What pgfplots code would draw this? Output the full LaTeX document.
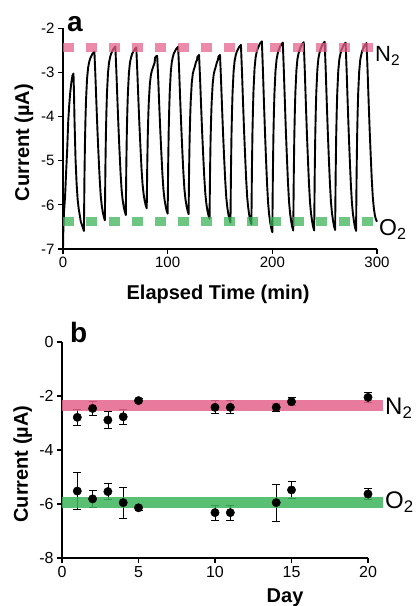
\documentclass[border=0pt]{standalone}
\usepackage{fontspec}
\setmainfont{Liberation Sans}
\usepackage{pgfplots}
\pgfplotsset{compat=1.18}
\definecolor{ntwo}{RGB}{228,100,140}
\definecolor{otwo}{RGB}{60,180,90}

\pgfplotsset{
  panel/.style={
    scale only axis, anchor=south west,
    axis x line*=bottom, axis y line*=left,
    axis line style={line width=1.6bp, black, -},
    tick style={line width=1.2bp, black},
    major tick length=5bp,
    tick align=outside,
    clip=false,
    label style={font=\fontsize{20bp}{24bp}\selectfont\bfseries},
  },
}

\begin{document}
\begin{tikzpicture}
\path[use as bounding box] (0,0) rectangle (420bp,606bp);

% panel a: current trace while switching N2 / O2
\begin{axis}[panel,
  at={(63bp,357bp)}, width=314bp, height=220.5bp,
  xmin=0, xmax=300, ymin=-7, ymax=-2,
  xtick={0,100,200,300}, xticklabels={0,100,200,300},
  ytick={-7,-6,-5,-4,-3,-2}, yticklabels={-7,-6,-5,-4,-3,-2},
  tick label style={font=\fontsize{15bp}{18bp}\selectfont},
  xlabel={Elapsed Time (min)},
  ylabel={Current (µA)},
  xlabel style={at={(axis description cs:0.494,-0.23)}, anchor=base},
  ylabel style={at={(axis description cs:-0.124,0.483)}, anchor=center},
]
\addplot[black, line width=1.9bp, line join=round] coordinates {
(0,-7.0) (0.3,-6.6) (1,-6.15) (2,-5.8) (3,-5.25) (4,-4.75) (5,-4.1) (6,-3.72) (7,-3.43) (8,-3.22) (9,-3.07) (10,-3.02)
(10.5,-3.45) (11,-4.09) (12,-4.98) (13,-5.52) (14,-5.88) (15,-6.09) (16,-6.23) (17,-6.38) (18,-6.45) (19,-6.52) (20,-6.59)
(20.5,-5.37) (21,-4.56) (21.5,-4.03) (22,-3.62) (23,-3.13) (24,-2.89) (25,-2.76) (26,-2.68) (28,-2.58) (30,-2.52)
(31,-3.10) (32,-3.75) (33,-4.36) (34,-4.90) (35,-5.39) (36,-5.78) (37,-6.01) (38,-6.16) (39,-6.27) (40,-6.35)
(40.5,-5.17) (41,-4.38) (41.5,-3.87) (42,-3.47) (43,-3.00) (44,-2.77) (45,-2.65) (46,-2.57) (48,-2.47) (50,-2.41)
(51,-2.98) (52,-3.63) (53,-4.24) (54,-4.78) (55,-5.28) (56,-5.66) (57,-5.89) (58,-6.04) (59,-6.15) (60,-6.23)
(60.5,-5.09) (61,-4.33) (61.5,-3.84) (62,-3.46) (63,-3.00) (64,-2.77) (65,-2.66) (66,-2.58) (68,-2.49) (70,-2.43)
(71,-2.98) (72,-3.60) (73,-4.18) (74,-4.69) (75,-5.17) (76,-5.53) (77,-5.75) (78,-5.90) (79,-6.01) (80,-6.08)
(80.5,-5.08) (81,-4.42) (81.5,-3.98) (82,-3.65) (83,-3.25) (84,-3.05) (85,-2.95) (86,-2.88) (87.5,-2.78) (88,-2.66) (89,-2.63) (90,-2.62)
(91,-3.16) (92,-3.77) (93,-4.34) (94,-4.84) (95,-5.31) (96,-5.66) (97,-5.88) (98,-6.02) (99,-6.13) (100,-6.20)
(100.5,-5.06) (101,-4.31) (101.5,-3.81) (102,-3.43) (103,-2.98) (104,-2.75) (105,-2.64) (106,-2.56) (108,-2.47) (110,-2.41)
(111,-2.98) (112,-3.63) (113,-4.23) (114,-4.77) (115,-5.26) (116,-5.64) (117,-5.87) (118,-6.02) (119,-6.13) (120,-6.21)
(120.5,-5.16) (121,-4.47) (121.5,-4.01) (122,-3.66) (123,-3.24) (124,-3.03) (125,-2.93) (126,-2.86) (127,-2.76) (128,-2.72) (128.5,-2.64) (130,-2.60)
(131,-3.16) (132,-3.79) (133,-4.38) (134,-4.90) (135,-5.38) (136,-5.75) (137,-5.98) (138,-6.13) (139,-6.24) (140,-6.31)
(140.5,-5.23) (141,-4.52) (141.5,-4.05) (142,-3.69) (143,-3.26) (144,-3.04) (145,-2.94) (146,-2.86) (147,-2.77) (148,-2.71) (148.5,-2.64) (150,-2.60)
(151,-3.17) (152,-3.82) (153,-4.42) (154,-4.96) (155,-5.45) (156,-5.83) (157,-6.06) (158,-6.21) (159,-6.32) (160,-6.40)
(160.5,-5.19) (161,-4.39) (161.5,-3.86) (162,-3.46) (163,-2.97) (164,-2.73) (165,-2.61) (166,-2.53) (168,-2.43) (170,-2.37)
(171,-2.98) (172,-3.67) (173,-4.32) (174,-4.89) (175,-5.42) (176,-5.83) (177,-6.07) (178,-6.24) (179,-6.36) (180,-6.44)
(180.5,-5.20) (181,-4.37) (181.5,-3.83) (182,-3.41) (183,-2.91) (184,-2.66) (185,-2.54) (186,-2.46) (188,-2.35) (190,-2.29)
(191,-2.94) (192,-3.68) (193,-4.37) (194,-4.98) (195,-5.54) (196,-5.97) (197,-6.23) (198,-6.40) (199,-6.53) (200,-6.62)
(200.5,-5.33) (201,-4.47) (201.5,-3.91) (202,-3.48) (203,-2.97) (204,-2.71) (205,-2.58) (206,-2.49) (208,-2.38) (210,-2.32)
(211,-2.96) (212,-3.68) (213,-4.37) (214,-4.96) (215,-5.52) (216,-5.94) (217,-6.20) (218,-6.37) (219,-6.50) (220,-6.58)
(220.5,-5.30) (221,-4.45) (221.5,-3.89) (222,-3.46) (223,-2.95) (224,-2.69) (225,-2.57) (226,-2.48) (228,-2.37) (230,-2.31)
(231,-2.95) (232,-3.68) (233,-4.36) (234,-4.96) (235,-5.51) (236,-5.94) (237,-6.20) (238,-6.37) (239,-6.50) (240,-6.58)
(240.5,-5.29) (241,-4.44) (241.5,-3.88) (242,-3.45) (243,-2.94) (244,-2.68) (245,-2.56) (246,-2.47) (248,-2.36) (250,-2.30)
(251,-2.94) (252,-3.67) (253,-4.35) (254,-4.95) (255,-5.50) (256,-5.93) (257,-6.19) (258,-6.36) (259,-6.49) (260,-6.57)
(260.5,-5.31) (261,-4.46) (261.5,-3.90) (262,-3.47) (263,-2.96) (264,-2.70) (265,-2.58) (266,-2.49) (268,-2.38) (270,-2.32)
(271,-2.96) (272,-3.69) (273,-4.37) (274,-4.97) (275,-5.52) (276,-5.94) (277,-6.20) (278,-6.38) (279,-6.51) (280,-6.59)
(280.5,-5.31) (281,-4.46) (281.5,-3.91) (282,-3.48) (283,-2.97) (284,-2.71) (285,-2.59) (286,-2.50) (288,-2.39) (290,-2.33)
(291,-2.95) (292,-3.65) (293,-4.31) (294,-4.88) (295,-5.42) (296,-5.83) (297,-6.08) (298,-6.24) (299,-6.33) (300,-6.38)
};
\addplot[ntwo, opacity=0.75, line width=9bp, dash pattern=on 11bp off 12bp] coordinates {(0,-2.43) (297,-2.43)};
\addplot[otwo, opacity=0.75, line width=9bp, dash pattern=on 11bp off 12bp] coordinates {(0,-6.38) (297,-6.38)};
\end{axis}

% panel b: day to day stability
\begin{axis}[panel,
  at={(62bp,48bp)}, width=306bp, height=216bp,
  xmin=0, xmax=20, ymin=-8, ymax=0,
  xtick={0,5,10,15,20}, xticklabels={0,5,10,15,20},
  ytick={-8,-6,-4,-2,0}, yticklabels={-8,-6,-4,-2,0},
  tick label style={font=\fontsize{16bp}{19bp}\selectfont},
  xlabel={Day},
  ylabel={Current (µA)},
  xlabel style={at={(axis description cs:0.729,-0.208)}, anchor=base},
  ylabel style={at={(axis description cs:-0.128,0.435)}, anchor=center},
]
\addplot[black, only marks, mark=*, mark size=4.2bp,
  error bars/.cd, y dir=both, y explicit,
  error bar style={line width=0.8bp, black},
  error mark options={rotate=90, mark size=4bp, line width=0.8bp}]
coordinates {
(1,-2.79) +- (0,0.29)
(2,-2.46) +- (0,0.26)
(3,-2.89) +- (0,0.32)
(4,-2.77) +- (0,0.27)
(5,-2.17) +- (0,0.08)
(10,-2.42) +- (0,0.24)
(11,-2.42) +- (0,0.24)
(14,-2.42) +- (0,0.15)
(15,-2.21) +- (0,0.15)
(20,-2.05) +- (0,0.18)
};
\addplot[black, only marks, mark=*, mark size=4.2bp,
  error bars/.cd, y dir=both, y explicit,
  error bar style={line width=0.8bp, black},
  error mark options={rotate=90, mark size=4bp, line width=0.8bp}]
coordinates {
(1,-5.52) +- (0,0.69)
(2,-5.81) +- (0,0.30)
(3,-5.54) +- (0,0.29)
(4,-5.95) +- (0,0.57)
(5,-6.14) +- (0,0.08)
(10,-6.32) +- (0,0.28)
(11,-6.32) +- (0,0.28)
(14,-5.95) +- (0,0.69)
(15,-5.48) +- (0,0.33)
(20,-5.63) +- (0,0.20)
};
\addplot[ntwo, opacity=0.85, line width=11bp] coordinates {(0,-2.35) (21,-2.35)};
\addplot[otwo, opacity=0.85, line width=11bp] coordinates {(0,-5.94) (21,-5.94)};
\end{axis}

% panel letters and gas labels
\node[anchor=base west, font=\fontsize{28bp}{30bp}\selectfont\bfseries, inner sep=0pt] at (67bp,574bp) {a};
\node[anchor=base west, font=\fontsize{28bp}{30bp}\selectfont\bfseries, inner sep=0pt] at (70bp,263bp) {b};
\node[anchor=base west, font=\fontsize{22bp}{24bp}\selectfont, inner sep=0pt] at (375bp,544bp) {N\textsubscript{2}};
\node[anchor=base west, font=\fontsize{23bp}{25bp}\selectfont, inner sep=0pt] at (379bp,370bp) {O\textsubscript{2}};
\node[anchor=base west, font=\fontsize{24bp}{26bp}\selectfont, inner sep=0pt] at (385bp,191bp) {N\textsubscript{2}};
\node[anchor=base west, font=\fontsize{24bp}{26bp}\selectfont, inner sep=0pt] at (385bp,97bp) {O\textsubscript{2}};
\end{tikzpicture}
\end{document}
